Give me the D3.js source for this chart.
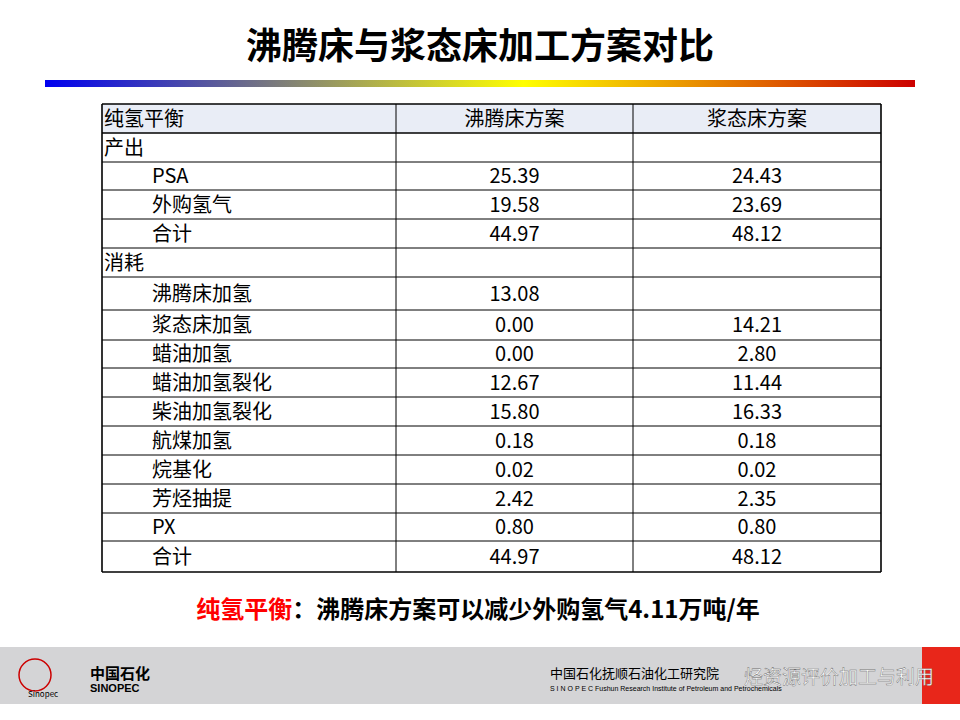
<!DOCTYPE html>
<html><head><meta charset="utf-8">
<script src="https://cdn.jsdelivr.net/npm/d3@7"></script>
<style>body{margin:0;background:#fff}</style>
</head><body>
<svg id="c" width="960" height="720"></svg>
<script>
var headers = ["纯氢平衡", "沸腾床方案", "浆态床方案"];
var labels = ["产出", "PSA", "外购氢气", "合计", "消耗", "沸腾床加氢", "浆态床加氢", "蜡油加氢", "蜡油加氢裂化", "柴油加氢裂化", "航煤加氢", "烷基化", "芳烃抽提", "PX", "合计"];
var ebullated = ["", "25.39", "19.58", "44.97", "", "13.08", "0.00", "0.00", "12.67", "15.80", "0.18", "0.02", "2.42", "0.80", "44.97"];
var slurry = ["", "24.43", "23.69", "48.12", "", "", "14.21", "2.80", "11.44", "16.33", "0.18", "0.02", "2.35", "0.80", "48.12"];
var rowEdges = [104, 133, 162, 190, 219, 248, 277, 310, 340, 368, 397, 426, 455, 484, 513, 541, 572];

var svg = d3.select("#c");
var font = "'Noto Sans CJK SC', sans-serif";

svg.append("text").attr("x", 480).attr("y", 59).attr("text-anchor", "middle")
  .attr("font-family", font).attr("font-weight", "bold").attr("font-size", 36).text("沸腾床与浆态床加工方案对比");

var grad = svg.append("defs").append("linearGradient").attr("id", "g");
[["0%", "#0000f0"], ["55%", "#ffff00"], ["100%", "#cc0000"]].forEach(function(s) {
  grad.append("stop").attr("offset", s[0]).attr("stop-color", s[1]);
});
svg.append("rect").attr("x", 45).attr("y", 80).attr("width", 870).attr("height", 7).attr("fill", "url(#g)");

var colX = [102, 396, 633, 881];
var rows = [headers].concat(labels.map(function(l, i) { return [l, ebullated[i], slurry[i]]; }));
var t = svg.append("g");
rows.forEach(function(r, i) {
  var y0 = rowEdges[i], y1 = rowEdges[i + 1];
  if (i === 0) t.append("rect").attr("x", colX[0]).attr("y", y0).attr("width", colX[3] - colX[0]).attr("height", y1 - y0).attr("fill", "#e9edf6");
  var indent = (i === 0 || labels[i - 1] === "产出" || labels[i - 1] === "消耗") ? 2 : 50;
  r.forEach(function(v, j) {
    var x = j === 0 ? colX[0] + indent : (colX[j] + colX[j + 1]) / 2;
    t.append("text").attr("x", x).attr("y", (y0 + y1) / 2 + 7)
      .attr("text-anchor", j === 0 ? "start" : "middle")
      .attr("font-family", font).attr("font-size", 20).text(v);
  });
});
rowEdges.forEach(function(y, i) {
  t.append("line").attr("x1", colX[0]).attr("x2", colX[3]).attr("y1", y).attr("y2", y)
    .attr("stroke", "#000").attr("stroke-width", (i === 0 || i === 1 || i === rowEdges.length - 1) ? 1.6 : 1);
});
colX.forEach(function(x, i) {
  t.append("line").attr("x1", x).attr("x2", x).attr("y1", rowEdges[0]).attr("y2", rowEdges[rowEdges.length - 1])
    .attr("stroke", "#000").attr("stroke-width", (i === 0 || i === 3) ? 1.6 : 1);
});

var note = svg.append("text").attr("x", 478).attr("y", 618).attr("text-anchor", "middle")
  .attr("font-family", font).attr("font-weight", "bold").attr("font-size", 24);
note.append("tspan").attr("fill", "#ff0000").text("纯氢平衡");
note.append("tspan").attr("fill", "#000").text("：沸腾床方案可以减少外购氢气4.11万吨/年");

svg.append("rect").attr("x", 0).attr("y", 647).attr("width", 960).attr("height", 57).attr("fill", "#d4d4d6");
svg.append("rect").attr("x", 922).attr("y", 647).attr("width", 38).attr("height", 57).attr("fill", "#e8261a");
svg.append("circle").attr("cx", 35).attr("cy", 675).attr("r", 16).attr("fill", "none").attr("stroke", "#c00").attr("stroke-width", 1.5);
svg.append("text").attr("x", 28).attr("y", 697).attr("font-family", font).attr("font-size", 8).text("Sinopec");
svg.append("text").attr("x", 50).attr("y", 679).attr("font-family", font).attr("font-weight", "bold").attr("font-size", 15).text("中国石化")
  .attr("x", 90);
svg.append("text").attr("x", 90).attr("y", 692).attr("font-family", "Liberation Sans").attr("font-weight", "bold").attr("font-size", 11).text("SINOPEC");
svg.append("text").attr("x", 550).attr("y", 678).attr("font-family", font).attr("font-size", 13).text("中国石化抚顺石油化工研究院");
svg.append("text").attr("x", 550).attr("y", 691).attr("font-family", "Liberation Sans").attr("font-size", 7).text("S I N O P E C   Fushun Research Institute of Petroleum and Petrochemicals");
svg.append("text").attr("x", 744).attr("y", 684).attr("font-family", font).attr("font-size", 19).attr("fill", "#fff")
  .attr("stroke", "#666").attr("stroke-width", 0.4).text("烃资源评价加工与利用");
</script>
</body></html>
